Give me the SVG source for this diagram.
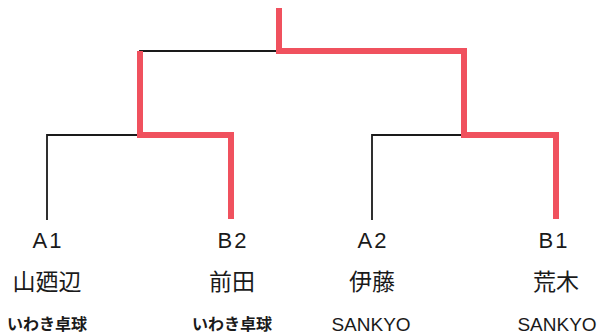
<svg xmlns="http://www.w3.org/2000/svg" width="600" height="335" viewBox="0 0 600 335">
<style>
.blk{fill:none;stroke:#1a1a1a;stroke-width:1.8;stroke-linecap:square}
.red{fill:none;stroke:#f0515e;stroke-width:6;stroke-linejoin:miter;stroke-linecap:butt}
.seed{font-family:"Liberation Sans","Noto Sans CJK JP",sans-serif;font-size:22px;fill:#1a1a1a;text-anchor:middle;letter-spacing:2px}
.name{font-family:"Noto Sans CJK JP",sans-serif;font-size:23px;fill:#1a1a1a;text-anchor:middle}
.club{font-family:"Noto Sans CJK JP",sans-serif;font-size:16px;font-weight:bold;fill:#1a1a1a;text-anchor:middle}
.clubl{font-family:"Liberation Sans","Noto Sans CJK JP",sans-serif;font-size:19px;fill:#1a1a1a;text-anchor:middle}
</style>
<g id="connectors">
<path class="blk" d="M47,219 V135 H140"/>
<path class="blk" d="M372,219 V135 H464"/>
<path class="blk" d="M140,51 H279"/>
<path class="red" d="M231,219 V135 H140 V51"/>
<path class="red" d="M279,8 V51 H464 V135 H556 V219"/>
</g>
<g id="A1"><text class="seed" x="48" y="248">A1</text><text class="name" x="47" y="290">山廼辺</text><text class="club" x="47" y="330">いわき卓球</text></g>
<g id="B2"><text class="seed" x="233" y="248">B2</text><text class="name" x="232" y="290">前田</text><text class="club" x="232" y="330">いわき卓球</text></g>
<g id="A2"><text class="seed" x="373" y="248">A2</text><text class="name" x="372" y="290">伊藤</text><text class="clubl" x="371" y="331">SANKYO</text></g>
<g id="B1"><text class="seed" x="554" y="248">B1</text><text class="name" x="556" y="290">荒木</text><text class="clubl" x="557" y="331">SANKYO</text></g>
</svg>
